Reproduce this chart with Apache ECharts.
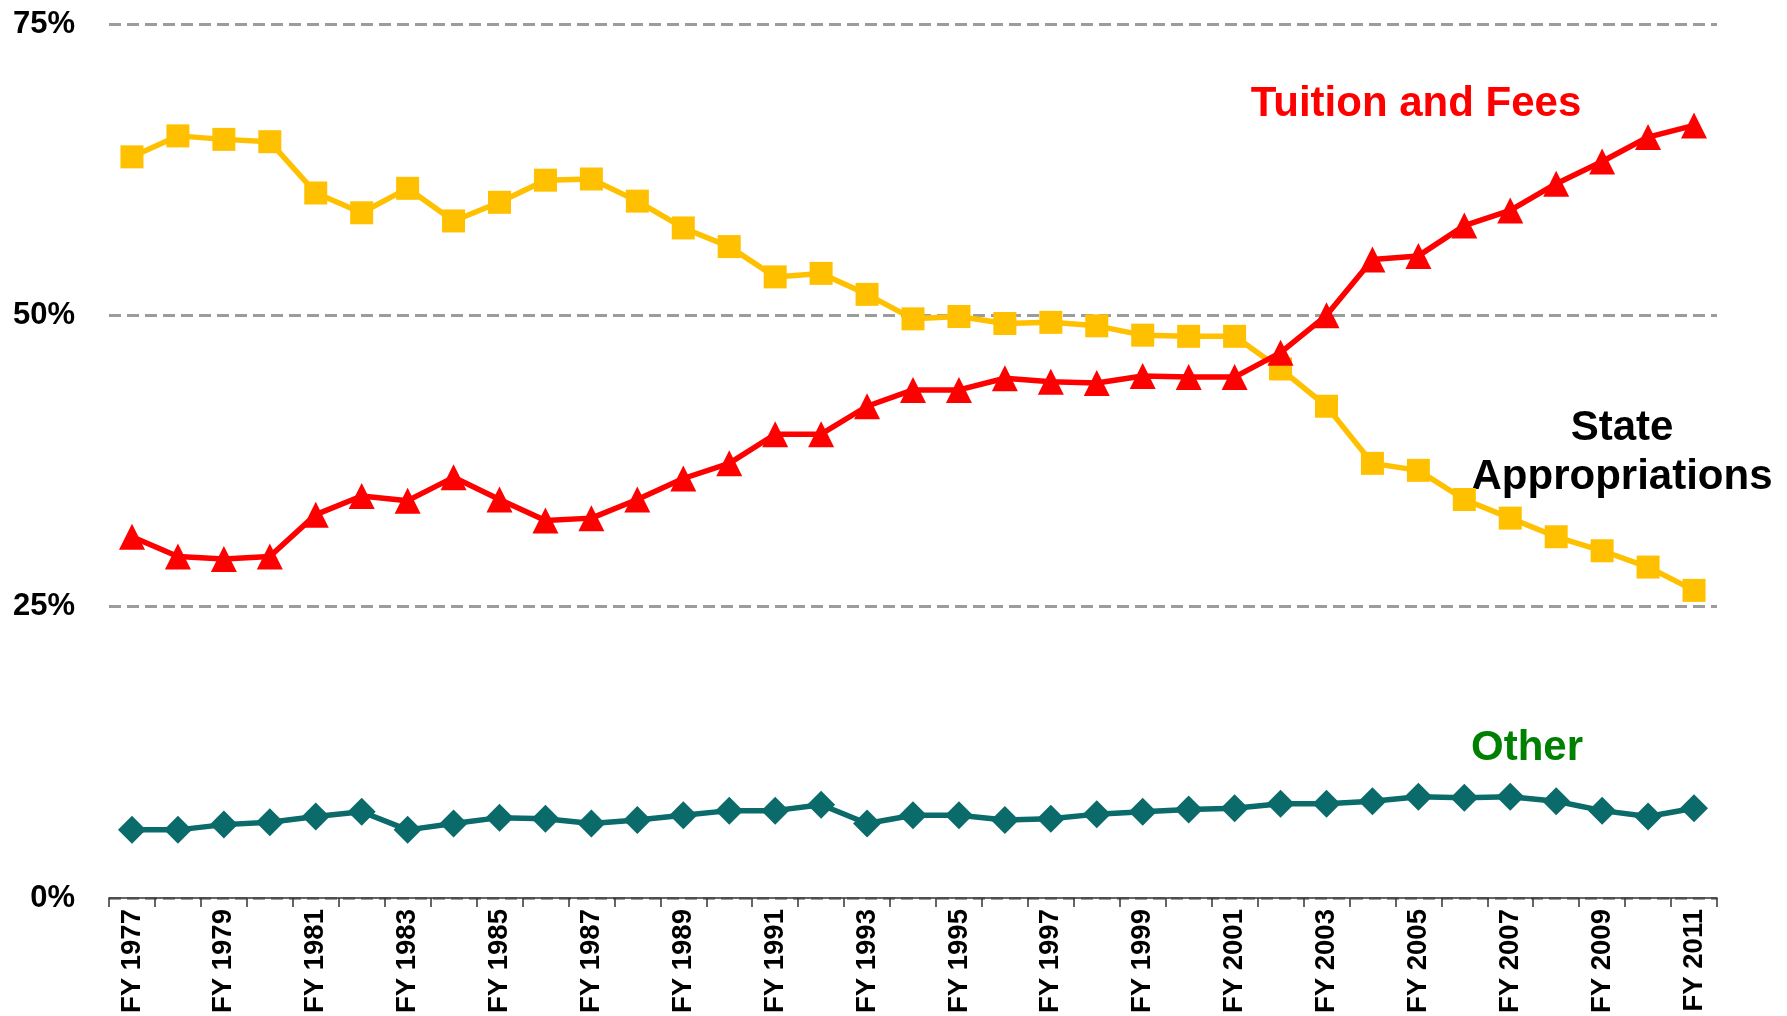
<!DOCTYPE html>
<html>
<head>
<meta charset="utf-8">
<script src="https://cdn.jsdelivr.net/npm/echarts@6/dist/echarts.min.js"></script>
<style>html,body{margin:0;padding:0;background:#fff;}#c{width:1787px;height:1016px;}</style>
</head>
<body>
<div id="c"></div>
<script>
var years = ['FY 1977','FY 1978','FY 1979','FY 1980','FY 1981','FY 1982','FY 1983','FY 1984','FY 1985','FY 1986','FY 1987','FY 1988','FY 1989','FY 1990','FY 1991','FY 1992','FY 1993','FY 1994','FY 1995','FY 1996','FY 1997','FY 1998','FY 1999','FY 2000','FY 2001','FY 2002','FY 2003','FY 2004','FY 2005','FY 2006','FY 2007','FY 2008','FY 2009','FY 2010','FY 2011'];
var stateApprop = [63.6,65.4,65.1,64.9,60.5,58.8,60.9,58.1,59.7,61.6,61.7,59.8,57.5,55.9,53.3,53.6,51.8,49.7,49.9,49.3,49.4,49.1,48.3,48.2,48.2,45.4,42.2,37.3,36.7,34.2,32.6,31.0,29.8,28.4,26.4];
var tuition = [31.0,29.3,29.1,29.3,32.9,34.5,34.1,36.1,34.2,32.4,32.6,34.2,36.0,37.3,39.8,39.8,42.2,43.6,43.6,44.6,44.3,44.2,44.8,44.7,44.7,46.8,50.0,54.8,55.1,57.7,59.0,61.3,63.2,65.3,66.3];
var other = [5.85,5.85,6.3,6.5,7.0,7.4,5.85,6.4,6.9,6.8,6.4,6.7,7.1,7.5,7.5,8.0,6.4,7.1,7.1,6.7,6.8,7.2,7.4,7.6,7.7,8.1,8.1,8.3,8.7,8.6,8.7,8.3,7.5,7.0,7.7];
var yTicks = [0,25,50,75];

var chart = echarts.init(document.getElementById('c'), null, {renderer:'canvas'});
var FONT = '"Liberation Sans", Arial, sans-serif';
chart.setOption({
  animation:false,
  backgroundColor:'#fff',
  grid:{left:109,right:70,top:24,bottom:117,containLabel:false},
  xAxis:{
    type:'category', data:years, boundaryGap:true,
    axisLine:{show:true,lineStyle:{color:'#333',width:1.5}},
    axisTick:{show:true,interval:0,length:9,lineStyle:{color:'#333',width:1.5}},
    axisLabel:{interval:1,rotate:90,margin:11,fontFamily:FONT,fontWeight:'bold',fontSize:27.5,color:'#000'},
    splitLine:{show:false}
  },
  yAxis:{
    type:'value', min:yTicks[0], max:yTicks[yTicks.length-1], interval:25,
    axisLine:{show:false}, axisTick:{show:false},
    axisLabel:{formatter:'{value}%',margin:34,fontFamily:FONT,fontWeight:'bold',fontSize:31,color:'#000'},
    splitLine:{show:true,lineStyle:{color:'#9C9C9C',width:3,type:[12,6]}}
  },
  series:[
    {name:'State Appropriations',type:'line',data:stateApprop,symbol:'rect',symbolSize:23,
     lineStyle:{color:'#FFC000',width:5.5},itemStyle:{color:'#FFC000'},z:2},
    {name:'Tuition and Fees',type:'line',data:tuition,symbol:'triangle',symbolSize:26,
     lineStyle:{color:'#FF0000',width:5.5},itemStyle:{color:'#FF0000'},z:3},
    {name:'Other',type:'line',data:other,symbol:'diamond',symbolSize:28,
     lineStyle:{color:'#0B6A6A',width:5.5},itemStyle:{color:'#0B6A6A'},z:2}
  ],
  graphic:[
    {type:'text',x:1416,y:104,style:{text:'Tuition and Fees',font:'bold 42px '+FONT,fill:'#FF0000',align:'center',verticalAlign:'middle'}},
    {type:'text',x:1622,y:453,style:{text:'State\nAppropriations',font:'bold 42px '+FONT,fill:'#000',align:'center',verticalAlign:'middle',lineHeight:49}},
    {type:'text',x:1527,y:748,style:{text:'Other',font:'bold 42px '+FONT,fill:'#008000',align:'center',verticalAlign:'middle'}}
  ]
});
</script>
</body>
</html>
